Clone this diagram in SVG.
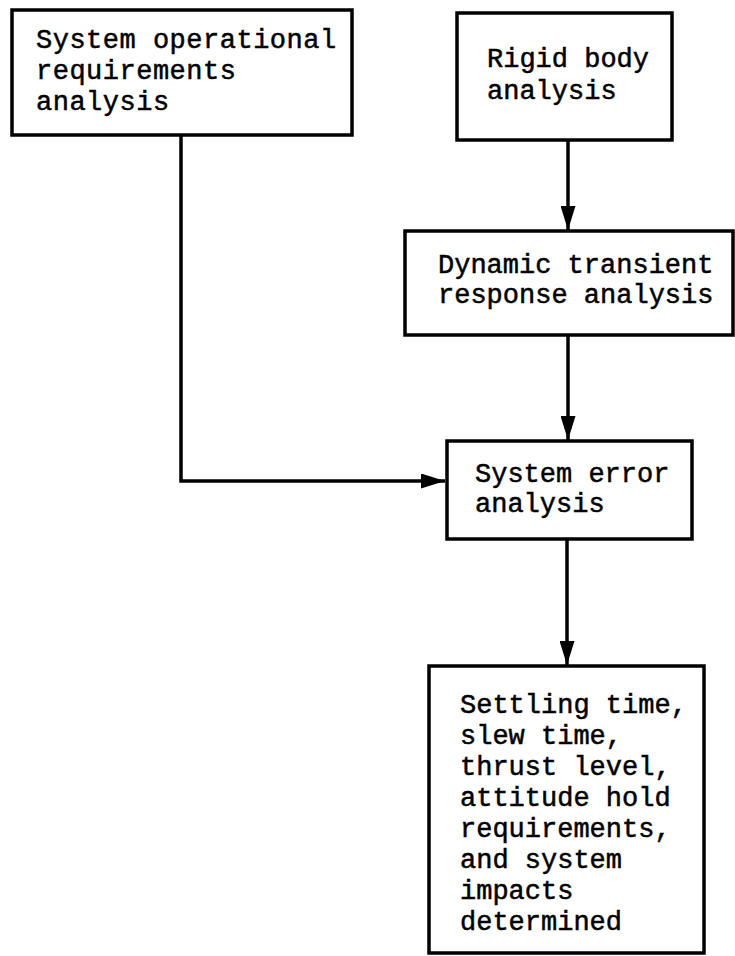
<svg xmlns="http://www.w3.org/2000/svg" width="735" height="956" viewBox="0 0 735 956">
<defs>
<style>
.box{fill:#fff;stroke:#000;stroke-width:3.5}
.t{font-family:"Liberation Mono","Courier New",monospace;font-size:27px;fill:#000;stroke:#000;stroke-width:0.5}
.c{fill:none;stroke:#000;stroke-width:3.5}
</style>
<marker id="ah" viewBox="0 0 24 15" refX="24" refY="7.5" markerWidth="24" markerHeight="15" markerUnits="userSpaceOnUse" orient="auto">
<path d="M0,0 L24,7.5 L0,15 Z" fill="#000"/>
</marker>
</defs>
<rect width="735" height="956" fill="#fff"/>
<g id="connectors">
<path class="c" d="M181,135 L181,481 L445,481" marker-end="url(#ah)"/>
<path class="c" d="M568,140 L568,230" marker-end="url(#ah)"/>
<path class="c" d="M568,335 L568,440" marker-end="url(#ah)"/>
<path class="c" d="M567,539 L567,665" marker-end="url(#ah)"/>
</g>
<g id="n1">
<rect class="box" x="12" y="10" width="340" height="125"/>
<text class="t" x="36" y="48" letter-spacing="0.5">System operational</text>
<text class="t" x="36" y="79" letter-spacing="0.5">requirements</text>
<text class="t" x="36" y="110" letter-spacing="0.5">analysis</text>
</g>
<g id="n2">
<rect class="box" x="457" y="13" width="215" height="127"/>
<text class="t" x="487" y="67">Rigid body</text>
<text class="t" x="487" y="99">analysis</text>
</g>
<g id="n3">
<rect class="box" x="405" y="231" width="328" height="104"/>
<text class="t" x="438" y="273">Dynamic transient</text>
<text class="t" x="438" y="303">response analysis</text>
</g>
<g id="n4">
<rect class="box" x="447" y="441" width="245" height="98"/>
<text class="t" x="475" y="482">System error</text>
<text class="t" x="475" y="512">analysis</text>
</g>
<g id="n5">
<rect class="box" x="429" y="666" width="275" height="287"/>
<text class="t" x="460" y="713">Settling time,</text>
<text class="t" x="460" y="744">slew time,</text>
<text class="t" x="460" y="775">thrust level,</text>
<text class="t" x="460" y="806">attitude hold</text>
<text class="t" x="460" y="837">requirements,</text>
<text class="t" x="460" y="868">and system</text>
<text class="t" x="460" y="899">impacts</text>
<text class="t" x="460" y="930">determined</text>
</g>
</svg>
